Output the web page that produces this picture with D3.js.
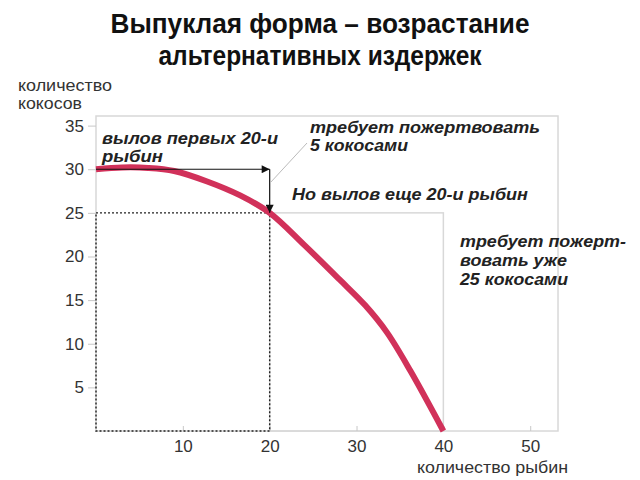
<!DOCTYPE html>
<html><head><meta charset="utf-8">
<script src="https://cdn.jsdelivr.net/npm/d3@7"></script>
<style>body{margin:0;background:#fff}svg{display:block}</style>
</head><body>
<svg id="c" width="640" height="480"></svg>
<script>
const curveX = [0, 3, 6, 9, 12.8, 16.6, 20, 24, 28, 31, 33.5, 36.2, 40];
const curveY = [30, 30.2, 30.15, 29.8, 28.6, 27, 25, 21.3, 17.4, 14.4, 11.3, 6.9, 0];
const xTicks = [10, 20, 30, 40, 50];
const yTicks = [5, 10, 15, 20, 25, 30, 35];
const firstStep = {x0: 0, x1: 20, yStart: 30, yEnd: 25};
const secondStep = {x0: 20, x1: 40, yStart: 25, yEnd: 0};
const titleLines = ["Выпуклая форма – возрастание", "альтернативных издержек"];

const svg = d3.select("#c");
const x = d3.scaleLinear().domain([0, 53.2]).range([96, 558]);
const y = d3.scaleLinear().domain([0, 36.1]).range([431, 116]);
const font = "Liberation Sans, Arial, sans-serif";

// title
const titleLayout = [{y: 33, w: 419}, {y: 65, w: 323}];
svg.selectAll("text.title").data(titleLines).join("text")
  .attr("x", 320).attr("y", (d, i) => titleLayout[i].y)
  .attr("text-anchor", "middle").attr("font-family", font)
  .attr("font-weight", "bold").attr("font-size", 27).attr("fill", "#111")
  .attr("textLength", (d, i) => titleLayout[i].w).attr("lengthAdjust", "spacingAndGlyphs")
  .text(d => d);

// plot frame
svg.append("rect").attr("x", x(0)).attr("y", y(36.1))
  .attr("width", x(53.2) - x(0)).attr("height", y(0) - y(36.1))
  .attr("fill", "none").attr("stroke", "#d8d8d8").attr("stroke-width", 1.5);

// grey second rectangle
svg.append("rect").attr("x", x(secondStep.x0)).attr("y", y(secondStep.yStart))
  .attr("width", x(secondStep.x1) - x(secondStep.x0)).attr("height", y(0) - y(secondStep.yStart))
  .attr("fill", "none").attr("stroke", "#d8d8d8").attr("stroke-width", 1.5);

// axes
const yAxis = d3.axisLeft(y).tickValues(yTicks).tickSize(8).tickPadding(4);
const gy = svg.append("g").attr("transform", `translate(${x(0)},0)`).call(yAxis);
gy.select(".domain").remove();
gy.selectAll("line").attr("stroke", "#c8c8c8");
gy.selectAll("text").attr("font-family", font).attr("font-size", 17).attr("fill", "#333");

const xAxis = d3.axisBottom(x).tickValues(xTicks).tickSize(-5).tickPadding(9);
const gx = svg.append("g").attr("transform", `translate(0,${y(0)})`).call(xAxis);
gx.select(".domain").remove();
gx.selectAll("line").attr("stroke", "#c8c8c8");
gx.selectAll("text").attr("font-family", font).attr("font-size", 17).attr("fill", "#333");

// dotted rect
svg.append("rect").attr("x", x(firstStep.x0)).attr("y", y(firstStep.yEnd))
  .attr("width", x(firstStep.x1) - x(firstStep.x0)).attr("height", y(0) - y(firstStep.yEnd))
  .attr("fill", "none").attr("stroke", "#222").attr("stroke-width", 1.4).attr("stroke-dasharray", "2,2");

// curve
const pts = curveX.map((v, i) => [v, curveY[i]]);
svg.append("path").datum(pts)
  .attr("d", d3.line().x(d => x(d[0])).y(d => y(d[1])).curve(d3.curveCatmullRom.alpha(0.5)))
  .attr("fill", "none").attr("stroke", "#d1315a").attr("stroke-width", 6).attr("stroke-linecap", "butt");

// arrows
const defs = svg.append("defs");
defs.append("marker").attr("id", "ah").attr("viewBox", "0 0 10 10").attr("refX", 10).attr("refY", 5)
  .attr("markerWidth", 11).attr("markerHeight", 8).attr("markerUnits", "userSpaceOnUse").attr("orient", "auto")
  .append("path").attr("d", "M0,0L10,5L0,10z").attr("fill", "#111");
svg.append("line").attr("x1", x(firstStep.x0)).attr("y1", y(firstStep.yStart))
  .attr("x2", x(firstStep.x1)).attr("y2", y(firstStep.yStart))
  .attr("stroke", "#111").attr("stroke-width", 1.2).attr("marker-end", "url(#ah)");
svg.append("line").attr("x1", x(firstStep.x1)).attr("y1", y(firstStep.yStart))
  .attr("x2", x(firstStep.x1)).attr("y2", y(firstStep.yEnd))
  .attr("stroke", "#111").attr("stroke-width", 1.2).attr("marker-end", "url(#ah)");

// leader line
svg.append("line").attr("x1", x(firstStep.x1) + 1).attr("y1", y(28.5))
  .attr("x2", 307).attr("y2", 143).attr("stroke", "#bbb").attr("stroke-width", 1);

// annotations
const notes = [
  {x: 102, y: 144, w: 176, t: "вылов первых 20-и"},
  {x: 102, y: 162, w: 61, t: "рыбин"},
  {x: 310, y: 133, w: 230, t: "требует пожертвовать"},
  {x: 310, y: 151, w: 98, t: "5 кокосами"},
  {x: 292, y: 200, w: 236, t: "Но вылов еще 20-и рыбин"},
  {x: 460, y: 247, w: 166, t: "требует пожерт-"},
  {x: 460, y: 266, w: 107, t: "вовать уже"},
  {x: 460, y: 285, w: 108, t: "25 кокосами"}
];
svg.selectAll("text.note").data(notes).join("text")
  .attr("x", d => d.x).attr("y", d => d.y)
  .attr("font-family", font).attr("font-weight", "bold").attr("font-style", "italic")
  .attr("font-size", 17).attr("fill", "#222")
  .attr("textLength", d => d.w).attr("lengthAdjust", "spacingAndGlyphs").text(d => d.t);

// axis titles
const axisTitles = [
  {x: 18, y: 91, w: 94, t: "количество"},
  {x: 18, y: 109, w: 64, t: "кокосов"},
  {x: 417, y: 473, w: 151, t: "количество рыбин"}
];
svg.selectAll("text.at").data(axisTitles).join("text")
  .attr("x", d => d.x).attr("y", d => d.y)
  .attr("font-family", font).attr("font-size", 16).attr("fill", "#333")
  .attr("textLength", d => d.w).attr("lengthAdjust", "spacingAndGlyphs").text(d => d.t);
</script>
</body></html>
